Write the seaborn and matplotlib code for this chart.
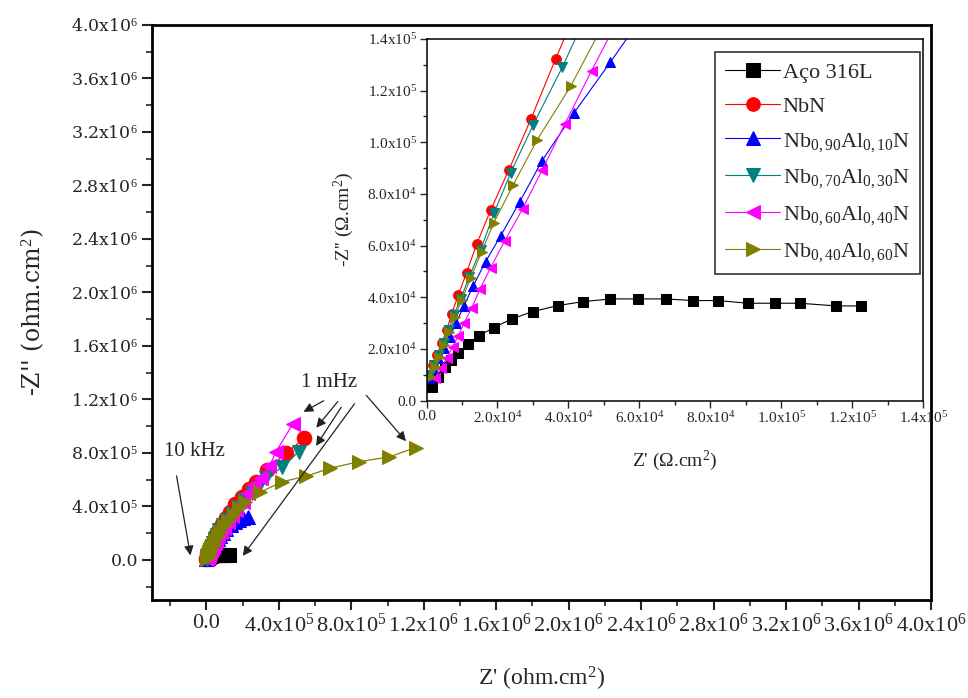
import numpy as np
import pandas as pd
import matplotlib
matplotlib.use("Agg")
import matplotlib.pyplot as plt
import seaborn as sns

sns.set_theme(style="white")
plt.rcParams['font.family'] = ['Liberation Serif', 'DejaVu Serif']
plt.rcParams['mathtext.fontset'] = 'custom'
plt.rcParams['mathtext.rm'] = 'Liberation Serif'
plt.rcParams['mathtext.it'] = 'Liberation Serif:italic'

# ---------------- data (Z', -Z'') in ohm.cm2 ----------------
aco_x = [1460, 3330, 5210, 6810, 8960, 11780, 14790, 19010, 24000, 29910, 36950, 44170,
         51880, 59670, 67460, 75160, 82200, 90650, 98170, 105210, 115550, 122590]
aco_y = [5350, 9220, 12870, 15700, 18530, 21780, 25120, 28220, 31590, 34420, 36750, 38300,
         39340, 39340, 39340, 38700, 38700, 37670, 37670, 37670, 36630, 36630]

nbn_x = [510, 1750, 2870, 4280, 5680, 7090, 8960, 11320, 14140, 18080, 23240, 29440, 36390,
         45000, 56000, 70000, 87000, 107000, 130000, 160000, 195000, 235000, 275000, 333000,
         440000, 541000]
nbn_y = [9880, 13760, 17640, 22170, 27330, 33400, 40890, 49540, 60540, 73700, 89340, 109000,
         132250, 160000, 192000, 228000, 268000, 312000, 360000, 415000, 470000, 530000,
         586000, 673000, 798000, 910000]

nb90_x = [790, 1920, 3330, 4930, 6620, 8310, 10560, 13180, 16680, 20900, 26340, 32450, 41550,
          51880, 63000, 76000, 92000, 110000, 136000, 160000, 182000, 205000, 232000]
nb90_y = [8600, 12480, 16360, 20230, 24730, 29920, 36630, 44380, 53810, 63760, 77050, 92560,
          111310, 131080, 153000, 177000, 203000, 230000, 260000, 285000, 300000, 310000, 318000]

nb70_x = [930, 2060, 3470, 4870, 6280, 7690, 9630, 12060, 15270, 19020, 23710, 30090, 38260,
          47000, 58000, 72000, 90000, 112000, 140000, 172000, 210000, 250000, 284000, 330000,
          420000, 510000]
nb70_y = [9880, 13760, 17640, 22170, 27330, 33140, 39220, 47990, 58330, 72560, 88060, 106780,
          129000, 155000, 185000, 220000, 258000, 300000, 345000, 395000, 450000, 500000,
          536000, 611000, 694000, 810000]

nb60_x = [2390, 4000, 5690, 7380, 8960, 10560, 12730, 15070, 18080, 22110, 27090, 32620, 39010,
          46530, 55000, 66000, 80000, 97000, 118000, 140000, 164000, 200000, 228000, 262000,
          300000, 348000, 385000, 477000]
nb60_y = [8600, 12480, 16360, 20850, 25000, 29920, 35740, 43100, 51480, 61940, 74230, 89340,
          107060, 127710, 150000, 175000, 205000, 240000, 280000, 325000, 370000, 430000,
          500000, 560000, 610000, 700000, 810000, 1016000]

nb40_x = [990, 2390, 3610, 4930, 6420, 8030, 9920, 12450, 15550, 19020, 24450, 31220, 40620,
          50000, 62000, 78000, 98000, 122000, 150000, 180000, 215000, 295000, 420000, 550000,
          680000, 845000, 1010000, 1155000]
nb40_y = [9220, 13100, 16980, 21510, 26670, 32490, 38950, 47360, 57680, 68920, 83530, 100970,
          121630, 146000, 175000, 210000, 250000, 292000, 338000, 385000, 430000, 505000,
          585000, 625000, 685000, 735000, 770000, 840000]

labels = ["Aço 316L", "NbN",
          r"Nb$_{0,90}$Al$_{0,10}$N", r"Nb$_{0,70}$Al$_{0,30}$N",
          r"Nb$_{0,60}$Al$_{0,40}$N", r"Nb$_{0,40}$Al$_{0,60}$N"]
series_x = [aco_x, nbn_x, nb90_x, nb70_x, nb60_x, nb40_x]
series_y = [aco_y, nbn_y, nb90_y, nb70_y, nb60_y, nb40_y]
colors = ["#000000", "#FF0000", "#0000FF", "#008080", "#FF00FF", "#808000"]
markers = ["s", "o", "^", "v", "<", ">"]

main_ticks = [0, 4e5, 8e5, 1.2e6, 1.6e6, 2.0e6, 2.4e6, 2.8e6, 3.2e6, 3.6e6, 4.0e6]
main_ticklabels = ["0.0", r"4.0x10$^{5}$", r"8.0x10$^{5}$", r"1.2x10$^{6}$", r"1.6x10$^{6}$",
                   r"2.0x10$^{6}$", r"2.4x10$^{6}$", r"2.8x10$^{6}$", r"3.2x10$^{6}$",
                   r"3.6x10$^{6}$", r"4.0x10$^{6}$"]
inset_ticks = [0, 2e4, 4e4, 6e4, 8e4, 1.0e5, 1.2e5, 1.4e5]
inset_ticklabels = ["0.0", r"2.0x10$^{4}$", r"4.0x10$^{4}$", r"6.0x10$^{4}$", r"8.0x10$^{4}$",
                    r"1.0x10$^{5}$", r"1.2x10$^{5}$", r"1.4x10$^{5}$"]

rows = []
for lab, xs, ys in zip(labels, series_x, series_y):
    for i, (a, b) in enumerate(zip(xs, ys)):
        rows.append({"series": lab, "idx": i, "Zr": a, "Zi": b})
df = pd.DataFrame(rows)

fig = plt.figure(figsize=(9.68, 6.98), dpi=100)
ax = fig.add_axes([152/968, 1-600/698, (931-152)/968, (600-25)/698])
axin = fig.add_axes([426.5/968, 1-400.5/698, (923-426.5)/968, (400.5-39)/698])


def draw(a, ms, lw):
    for lab, c, m in zip(labels, colors, markers):
        sub = df[df["series"] == lab]
        sns.lineplot(data=sub, x="Zr", y="Zi", sort=False, estimator=None, ax=a,
                     color=c, marker=m, markersize=ms, markeredgecolor=c,
                     linewidth=lw, label=lab, legend=False)


draw(ax, 10.5, 0.9)
ax.set_xlim(-3e5, 4e6)
ax.set_ylim(-3e5, 4e6)
ax.set_xticks(main_ticks)
ax.set_xticklabels(main_ticklabels, fontsize=16, family='Liberation Serif')
ax.set_yticks(main_ticks)
ax.set_yticklabels(main_ticklabels, fontsize=12.5, family='DejaVu Serif')
ax.set_xticks(np.arange(-2e5, 4e6, 4e5), minor=True)
ax.set_yticks(np.arange(-2e5, 4e6, 4e5), minor=True)
ax.tick_params(which='major', direction='out', length=7, width=1.5, bottom=True, left=True,
               top=False, right=False, pad=3)
ax.tick_params(which='minor', direction='out', length=4, width=1.2, bottom=True, left=True,
               top=False, right=False)
for s in ax.spines.values():
    s.set_linewidth(2)
    s.set_color('black')
ax.set_xlabel(r"Z' (ohm.cm$^{2}$)", fontsize=17, labelpad=20)
ax.set_ylabel(r"-Z'' (ohm.cm$^{2}$)", fontsize=17, labelpad=18, family='DejaVu Serif')

# annotations
ax.text(6.8e5, 1.33e6, "1 mHz", fontsize=15, ha='center', va='center')
ax.text(-6.6e4, 8.07e5, "10 kHz", fontsize=15, ha='center', va='center')
akw = dict(arrowstyle='-|>', color='#222222', lw=0.9, mutation_scale=14)
for (x0, y0), (x1, y1) in [((6.61e5, 1.20e6), (5.23e5, 1.097e6)),
                           ((7.35e5, 1.20e6), (5.97e5, 9.72e5)),
                           ((7.53e5, 1.159e6), (5.97e5, 8.35e5)),
                           ((8.27e5, 1.184e6), (1.92e5, 1.3e4)),
                           ((8.73e5, 1.246e6), (1.112e6, 8.72e5)),
                           ((-1.67e5, 6.48e5), (-8.5e4, 1.3e4))]:
    ax.annotate("", xy=(x1, y1), xytext=(x0, y0), arrowprops=akw)

draw(axin, 7, 0.8)
axin.set_xlim(0, 1.4e5)
axin.set_ylim(0, 1.4e5)
axin.set_xticks(inset_ticks)
axin.set_xticklabels(inset_ticklabels, fontsize=11)
axin.set_yticks(inset_ticks)
axin.set_yticklabels(inset_ticklabels, fontsize=11)
axin.set_xticks(np.arange(1e4, 1.4e5, 2e4), minor=True)
axin.set_yticks(np.arange(1e4, 1.4e5, 2e4), minor=True)
axin.tick_params(which='major', direction='out', length=5, width=1, bottom=True, left=True,
                 top=False, right=False, pad=2)
axin.tick_params(which='minor', direction='out', length=3, width=1, bottom=True, left=True,
                 top=False, right=False)
for s in axin.spines.values():
    s.set_linewidth(1.1)
    s.set_color('black')
axin.set_xlabel(r"Z' ($\Omega$.cm$^{2}$)", fontsize=14, labelpad=16)
axin.set_ylabel(r"-Z'' ($\Omega$.cm$^{2}$)", fontsize=14, labelpad=8)

handles, _ = axin.get_legend_handles_labels()
leg = axin.legend(handles, labels, loc='upper right', bbox_to_anchor=(0.994, 0.964),
                  borderaxespad=0, fontsize=16, frameon=True, fancybox=False,
                  edgecolor='black', handlelength=2.5, handletextpad=0.1,
                  labelspacing=0.62, borderpad=0.45, markerscale=1.4)
leg.get_frame().set_linewidth(1.2)

fig.savefig("out.png", dpi=100)
